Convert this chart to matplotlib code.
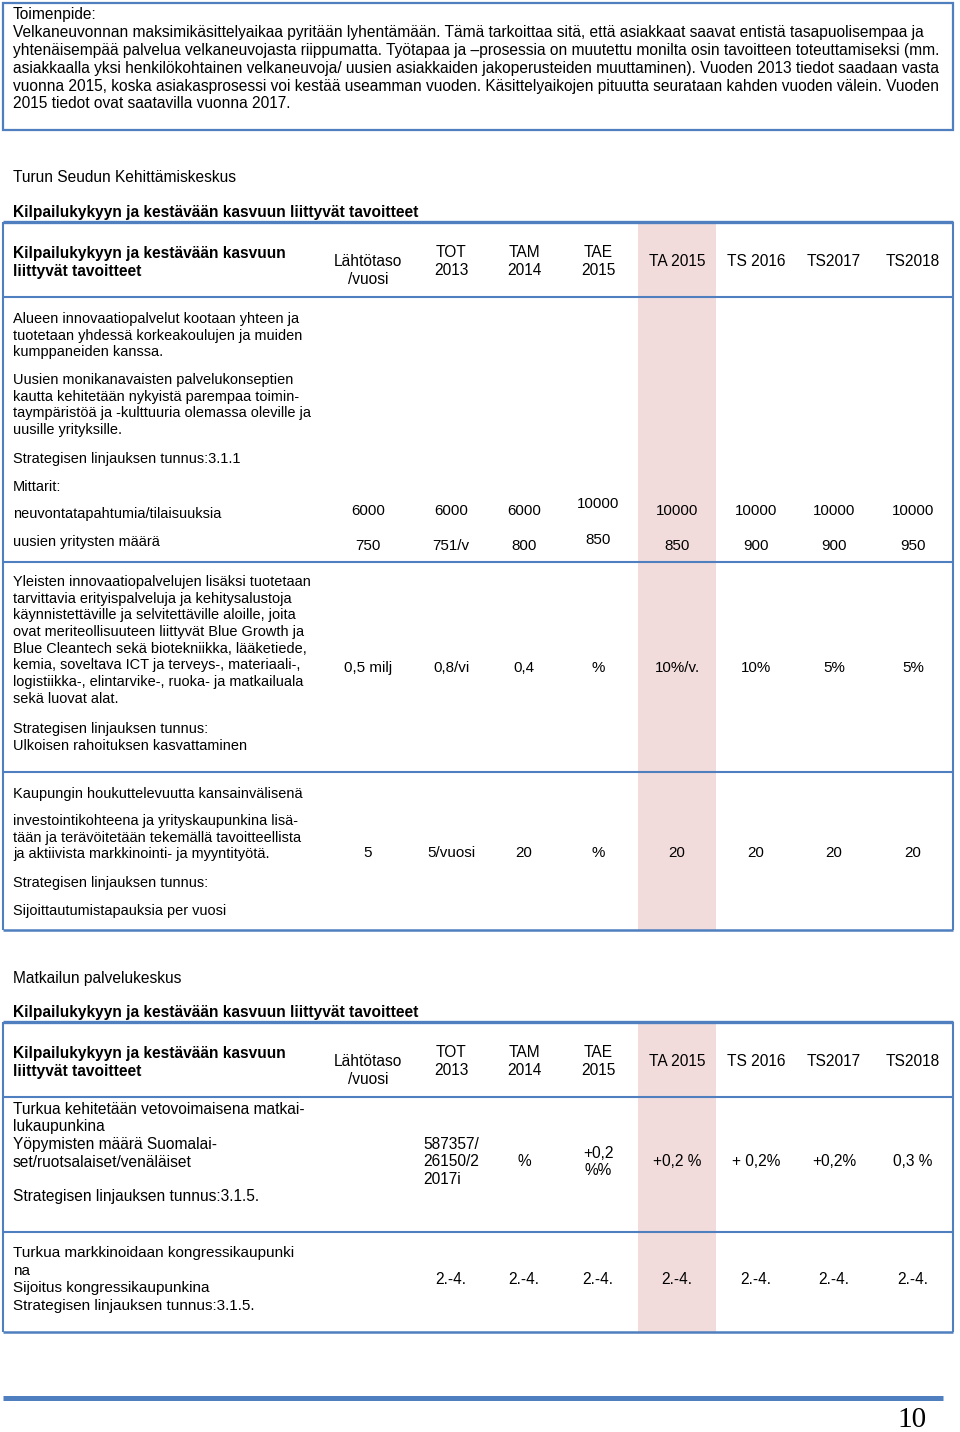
import matplotlib.pyplot as plt
from matplotlib.patches import Rectangle

plt.rcParams['font.family'] = ['Liberation Sans', 'DejaVu Sans']

# ---- data ----
intro_lines = [
    "Toimenpide:",
    "Velkaneuvonnan maksimikäsittelyaikaa pyritään lyhentämään. Tämä tarkoittaa sitä, että asiakkaat saavat entistä tasapuolisempaa ja",
    "yhtenäisempää palvelua velkaneuvojasta riippumatta. Työtapaa ja \u2013prosessia on muutettu monilta osin tavoitteen toteuttamiseksi (mm.",
    "asiakkaalla yksi henkilökohtainen velkaneuvoja/ uusien asiakkaiden jakoperusteiden muuttaminen). Vuoden 2013 tiedot saadaan vasta",
    "vuonna 2015, koska asiakasprosessi voi kestää useamman vuoden. Käsittelyaikojen pituutta seurataan kahden vuoden välein. Vuoden",
    "2015 tiedot ovat saatavilla vuonna 2017.",
]

columns = ["Lähtötaso\n/vuosi", "TOT\n2013", "TAM\n2014", "TAE\n2015",
           "TA 2015", "TS 2016", "TS2017", "TS2018"]
header_left = ["Kilpailukykyyn ja kestävään kasvuun", "liittyvät tavoitteet"]
section_heading = "Kilpailukykyyn ja kestävään kasvuun liittyvät tavoitteet"

# Turun Seudun Kehittämiskeskus
tsk_title = "Turun Seudun Kehittämiskeskus"
neuvonta = ["6000", "6000", "6000", "10000", "10000", "10000", "10000", "10000"]
uudet_yritykset = ["750", "751/v", "800", "850", "850", "900", "900", "950"]
erityispalvelut = ["0,5 milj", "0,8/vi", "0,4", "%", "10%/v.", "10%", "5%", "5%"]
sijoittautumiset = ["5", "5/vuosi", "20", "%", "20", "20", "20", "20"]

# Matkailun palvelukeskus
mpk_title = "Matkailun palvelukeskus"
yopymiset = ["", "587357/\n26150/2\n2017i", "%", "+0,2\n%%", "+0,2 %", "+ 0,2%", "+0,2%", "0,3 %"]
kongressi = ["", "2.-4.", "2.-4.", "2.-4.", "2.-4.", "2.-4.", "2.-4.", "2.-4."]

page_number = "10"

# ---- layout ----
BLUE = '#4f7fbf'
PINK = '#f2dcdb'
FS = 11.2       # running text, titles, table 2
FS_T1 = 10.45   # table 1 body text (slightly condensed in the source)
FS_VAL = 10.9   # table values
col_x = [368, 451, 524, 598, 677, 756, 834, 913]
pink_x0, pink_x1 = 638, 716
left_x = 13

fig = plt.figure(figsize=(9.6, 14.32), dpi=100)
ax = fig.add_axes([0, 0, 1, 1])
ax.set_xlim(0, 960)
ax.set_ylim(1432, 0)
ax.axis('off')


def para(x, y0, lines, step=16.7, fs=FS, **kw):
    for i, line in enumerate(lines):
        ax.text(x, y0 + i * step + 1, line, fontsize=fs, va='center', ha='left', **kw)


def hline(y, lw=1.5, x0=3, x1=953):
    ax.plot([x0, x1], [y, y], color=BLUE, lw=lw, solid_capstyle='butt')


def vline(x, y0, y1, lw=1.5):
    ax.plot([x, x], [y0, y1], color=BLUE, lw=lw, solid_capstyle='butt')


def header(y_top, y_bot):
    yc = (y_top + y_bot) / 2 + 1.5
    para(left_x, yc - 8.5, header_left, step=18, fontweight='bold')
    for x, label in zip(col_x, columns):
        dy = 9 if label.startswith('L') else 0
        ax.text(x, yc + dy + 0.5, label, fontsize=FS, ha='center', va='center', linespacing=1.3)


def row_values(values, y, offsets=None, linespacing=1.15, fs=FS_VAL):
    for i, (x, v) in enumerate(zip(col_x, values)):
        dy = (offsets[i] if offsets else 0) + 1
        if '\n' in v and v[0].isdigit():
            ax.text(x - 28, y + dy, v, fontsize=fs, ha='left', va='center', linespacing=linespacing)
        else:
            ax.text(x, y + dy, v, fontsize=fs, ha='center', va='center', linespacing=linespacing)


# top box
ax.add_patch(Rectangle((3, 3), 950, 127, fill=False, edgecolor=BLUE, lw=1.6))
para(left_x, 14, intro_lines, step=17.8)

# ---- table 1 ----
para(left_x, 176, [tsk_title])
para(left_x, 212, [section_heading], fontweight='bold')
t1_top, t1_head, t1_r1, t1_r2, t1_bot = 222, 297, 562, 772, 930
ax.add_patch(Rectangle((pink_x0, t1_top), pink_x1 - pink_x0, t1_bot - t1_top,
                       facecolor=PINK, edgecolor='none'))
hline(t1_top, lw=2.4)
for y in (t1_head, t1_r1, t1_r2):
    hline(y)
hline(t1_bot, lw=1.8)
vline(3, t1_top, t1_bot)
vline(953, t1_top, t1_bot)
header(t1_top, t1_head)

para(left_x, 318, ["Alueen innovaatiopalvelut kootaan yhteen ja",
                   "tuotetaan yhdessä korkeakoulujen ja muiden",
                   "kumppaneiden kanssa."], fs=FS_T1)
para(left_x, 379, ["Uusien monikanavaisten palvelukonseptien",
                   "kautta kehitetään nykyistä parempaa toimin-",
                   "taympäristöä ja -kulttuuria olemassa oleville ja",
                   "uusille yrityksille."], fs=FS_T1)
para(left_x, 458, ["Strategisen linjauksen tunnus:3.1.1"], fs=FS_T1)
para(left_x, 486, ["Mittarit:"], fs=FS_T1)
para(left_x, 513, ["neuvontatapahtumia/tilaisuuksia"], fs=FS_T1)
para(left_x, 541, ["uusien yritysten määrä"], fs=FS_T1)
row_values(neuvonta, 510, offsets=[0, 0, 0, -7, 0, 0, 0, 0])
row_values(uudet_yritykset, 545, offsets=[0, 0, 0, -6, 0, 0, 0, 0])

para(left_x, 581, ["Yleisten innovaatiopalvelujen lisäksi tuotetaan",
                   "tarvittavia erityispalveluja ja kehitysalustoja",
                   "käynnistettäville ja selvitettäville aloille, joita",
                   "ovat meriteollisuuteen liittyvät Blue Growth ja",
                   "Blue Cleantech sekä biotekniikka, lääketiede,",
                   "kemia, soveltava ICT ja terveys-, materiaali-,",
                   "logistiikka-, elintarvike-, ruoka- ja matkailuala",
                   "sekä luovat alat."], fs=FS_T1)
para(left_x, 728, ["Strategisen linjauksen tunnus:",
                   "Ulkoisen rahoituksen kasvattaminen"], fs=FS_T1)
row_values(erityispalvelut, 667)

para(left_x, 793, ["Kaupungin houkuttelevuutta kansainvälisenä"], fs=FS_T1)
para(left_x, 820, ["investointikohteena ja yrityskaupunkina lisä-",
                   "tään ja terävöitetään tekemällä tavoitteellista",
                   "ja aktiivista markkinointi- ja myyntityötä."], fs=FS_T1)
para(left_x, 882, ["Strategisen linjauksen tunnus:"], fs=FS_T1)
para(left_x, 910, ["Sijoittautumistapauksia per vuosi"], fs=FS_T1)
row_values(sijoittautumiset, 852)

# ---- table 2 ----
para(left_x, 977, [mpk_title])
para(left_x, 1012, [section_heading], fontweight='bold')
t2_top, t2_head, t2_r1, t2_bot = 1022, 1097, 1232, 1332
ax.add_patch(Rectangle((pink_x0, t2_top), pink_x1 - pink_x0, t2_bot - t2_top,
                       facecolor=PINK, edgecolor='none'))
hline(t2_top, lw=2.4)
for y in (t2_head, t2_r1):
    hline(y)
hline(t2_bot, lw=1.8)
vline(3, t2_top, t2_bot)
vline(953, t2_top, t2_bot)
header(t2_top, t2_head)

para(left_x, 1108, ["Turkua kehitetään vetovoimaisena matkai-",
                    "lukaupunkina",
                    "Yöpymisten määrä Suomalai-",
                    "set/ruotsalaiset/venäläiset"], step=17.7)
para(left_x, 1196, ["Strategisen linjauksen tunnus:3.1.5."])
row_values(yopymiset, 1161, linespacing=1.2, fs=FS)

para(left_x, 1252, ["Turkua markkinoidaan kongressikaupunki",
                    "na",
                    "Sijoitus kongressikaupunkina",
                    "Strategisen linjauksen tunnus:3.1.5."], step=17.7, fs=11.0)
row_values(kongressi, 1278, fs=FS)

# footer
ax.plot([3, 943], [1398, 1398], color=BLUE, lw=3.6, solid_capstyle='butt')
ax.text(912, 1420, page_number, fontsize=21, ha='center', va='center',
        family=['Liberation Serif', 'DejaVu Serif'])

fig.savefig('out.png', dpi=100, facecolor='white')
